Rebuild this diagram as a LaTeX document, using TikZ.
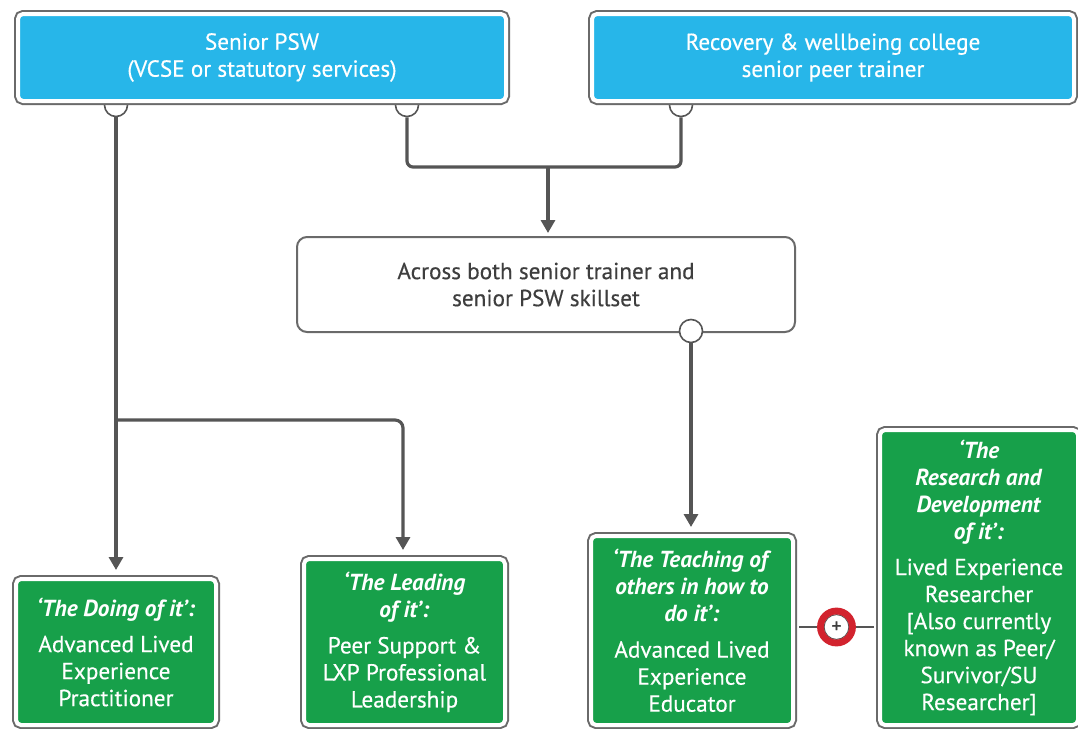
\documentclass[tikz,border=0pt]{standalone}
\usepackage{fontspec}
\setmainfont{PT Sans}[UprightFeatures={FakeBold=0.4}]
\usetikzlibrary{arrows.meta,positioning}
\definecolor{pswblue}{HTML}{27B6E9}
\definecolor{rolegreen}{HTML}{17A04A}
\definecolor{framegray}{HTML}{6A6A6A}
\definecolor{linegray}{HTML}{555555}
\definecolor{textgray}{HTML}{3E3E3E}
\definecolor{plusred}{HTML}{D2232E}
\newcommand{\boxfont}{\fontsize{11.6}{13.5}\selectfont}
\newcommand{\roletitle}[1]{\textbf{\textit{#1}}}
\tikzset{
    %Define standard arrow tip
    >={Triangle[length=6.5pt,width=7pt]},
    %Define style for the framed boxes
    framed/.style={
           rectangle,
           rounded corners=2.5pt,
           draw=white,
           line width=2pt,
           preaction={draw=framegray, line width=4pt},
           text=white,
           font=\boxfont,
           align=center,
           inner sep=0pt},
    senior/.style={framed, fill=pswblue, minimum height=43.5pt},
    role/.style={framed, fill=rolegreen},
    % push the text of a role box down a little
    drop/.style={execute at begin node={\rule{0pt}{#1}}},
    skill/.style={
           rectangle,
           rounded corners=5pt,
           draw=framegray,
           line width=1pt,
           fill=white,
           text=textgray,
           font=\boxfont,
           align=center,
           minimum width=249pt,
           minimum height=47.5pt},
    % Define connector styles
    port/.style={circle, draw=linegray, line width=0.8pt, fill=white,
           minimum size=11.5pt, inner sep=0pt},
    joint/.style={circle, draw=plusred, line width=3.4pt, fill=white,
           minimum size=16pt, inner sep=0pt, text=textgray,
           font=\fontsize{10}{10}\selectfont,
           path picture={\draw[linegray, line width=0.5pt]
               (path picture bounding box.center) circle (6.2pt);}},
    link/.style={draw=linegray, line width=1.6pt},
    flow/.style={link, ->, shorten >=3.5pt}
}
\begin{document}
\begin{tikzpicture}[x=0.5pt, y=-0.5pt]
    \useasboundingbox (0,0) rectangle (1078,729);
    % ports under the top boxes
    \node [port] (pswL) at (116,105) {};
    \node [port] (pswR) at (407,105) {};
    \node [port] (rwcP) at (681,105) {};

    \node [senior, minimum width=244pt] (psw) at (262,57.5) {Senior PSW\\(VCSE or statutory services)};
    \node [senior, minimum width=241pt] (rwc) at (833,57.5) {Recovery \& wellbeing college\\senior peer trainer};
    \node [skill] (across) at (546,284.5) {Across both senior trainer and\\senior PSW skillset};
    \node [port] (acrossP) at (691,331) {};

    \node [role, drop=13.4pt, minimum width=100pt, minimum height=73pt] (doing) at (116,652)
        {\roletitle{‘The Doing of it’:}\\[4.5pt]Advanced Lived\\Experience\\Practitioner};
    \node [role, drop=13.4pt, minimum width=100.5pt, minimum height=83pt] (leading) at (404.5,642)
        {\roletitle{‘The Leading}\\\roletitle{of it’:}\\[4.5pt]Peer Support \&\\LXP Professional\\Leadership};
    \node [role, minimum width=101pt, minimum height=94.5pt] (teaching) at (692,630.5)
        {\roletitle{‘The Teaching of}\\\roletitle{others in how to}\\\roletitle{do it’:}\\[4.5pt]Advanced Lived\\Experience\\Educator};
    \node [role, drop=11.5pt, minimum width=99pt, minimum height=147.5pt] (research) at (979,577.5)
        {\roletitle{‘The}\\\roletitle{Research and}\\\roletitle{Development}\\\roletitle{of it’:}\\[4.5pt]Lived Experience\\Researcher\\{[}Also currently\\known as Peer/\\Survivor/SU\\Researcher{]}};
    \node [joint] (plus) at (836.5,627) {+};

    \coordinate (merge) at (548,167);
    \coordinate (split) at (116,420);

    \draw [link, rounded corners=3pt] (pswR) |- (merge) -| (rwcP);
    \draw [flow, shorten >=1.5pt] (merge) -- (merge |- across.north);
    \draw [flow] (pswL) -- (doing);
    \draw [flow, rounded corners=4pt] (split) -| (leading.north -| 403,0);
    \draw [flow] (acrossP) -- (acrossP |- teaching.north);
    \draw [link, line width=0.9pt, shorten <=2pt] (plus -| teaching.east) -- (plus);
    \draw [link, line width=0.9pt, shorten >=2pt] (plus) -- (plus -| research.west);
\end{tikzpicture}
\end{document}
